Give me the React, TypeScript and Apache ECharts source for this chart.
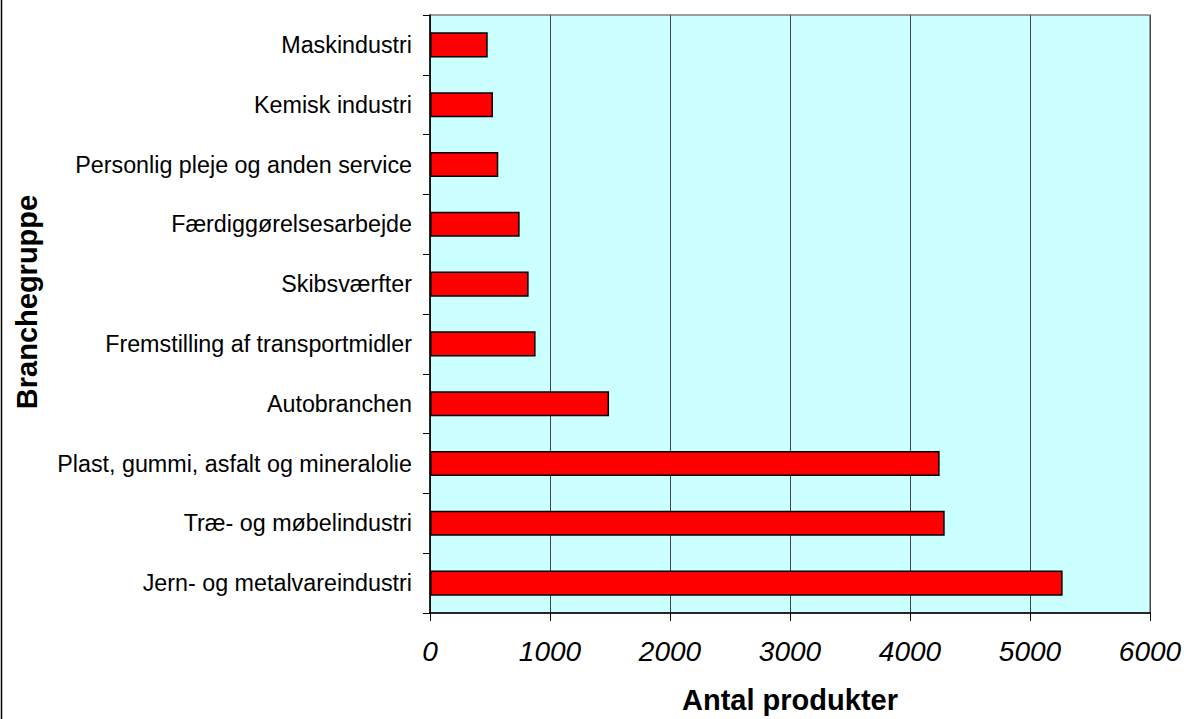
import React, { useEffect, useRef } from "react";
import * as echarts from "echarts";

const categories = [
  "Jern- og metalvareindustri",
  "Træ- og møbelindustri",
  "Plast, gummi, asfalt og mineralolie",
  "Autobranchen",
  "Fremstilling af transportmidler",
  "Skibsværfter",
  "Færdiggørelsesarbejde",
  "Personlig pleje og anden service",
  "Kemisk industri",
  "Maskindustri",
];
const values = [5272, 4289, 4247, 1492, 880, 822, 747, 569, 525, 481];
const xTicks = [0, 1000, 2000, 3000, 4000, 5000, 6000];
const xTitle = "Antal produkter";
const yTitle = "Branchegruppe";

export default function App() {
  const ref = useRef<HTMLDivElement>(null);
  useEffect(() => {
    if (!ref.current) return;
    const chart = echarts.init(ref.current, undefined, { renderer: "svg" });
    const font = "Liberation Sans, Arial, sans-serif";
    chart.setOption({
      animation: false,
      backgroundColor: "#ffffff",
      textStyle: { fontFamily: font },
      grid: {
        left: 430,
        right: 37,
        top: 15,
        bottom: 105,
        show: true,
        backgroundColor: "#CCFFFF",
        borderColor: "#808080",
        borderWidth: 1.5,
      },
      xAxis: {
        type: "value",
        min: xTicks[0],
        max: xTicks[xTicks.length - 1],
        interval: 1000,
        name: xTitle,
        nameLocation: "middle",
        nameGap: 72,
        nameTextStyle: { fontSize: 29, fontWeight: "bold", color: "#000", fontFamily: font },
        axisLine: { show: true, lineStyle: { color: "#000", width: 1.5 } },
        axisTick: { show: true, length: 8, lineStyle: { color: "#000", width: 1 } },
        axisLabel: {
          fontSize: 28,
          fontStyle: "italic",
          color: "#000",
          margin: 24,
          fontFamily: font,
          formatter: (v: number) => String(v),
        },
        splitLine: { show: true, lineStyle: { color: "#444", width: 1 } },
      },
      yAxis: {
        type: "category",
        data: categories,
        axisLine: { show: true, lineStyle: { color: "#000", width: 1.5 } },
        axisTick: { show: true, length: 7, alignWithLabel: false, lineStyle: { color: "#000", width: 1 } },
        axisLabel: { fontSize: 23.3, color: "#000", margin: 18, fontFamily: font },
        splitLine: { show: false },
      },
      series: [
        {
          type: "bar",
          data: values,
          barWidth: "42%",
          itemStyle: { color: "#FF0000", borderColor: "#000", borderWidth: 1.5 },
        },
      ],
      graphic: [
        {
          type: "line",
          shape: { x1: 1.5, y1: 0, x2: 1.5, y2: 719 },
          style: { stroke: "#000", lineWidth: 1.5 },
        },
        {
          type: "text",
          x: 27,
          y: 302,
          rotation: Math.PI / 2,
          style: {
            text: yTitle,
            fontSize: 29,
            fontWeight: "bold",
            fontFamily: font,
            fill: "#000",
            align: "center",
            verticalAlign: "middle",
          },
        },
      ],
    });
    return () => chart.dispose();
  }, []);
  return <div ref={ref} style={{ width: 1187, height: 719, position: "absolute", left: 0, top: 0 }} />;
}
